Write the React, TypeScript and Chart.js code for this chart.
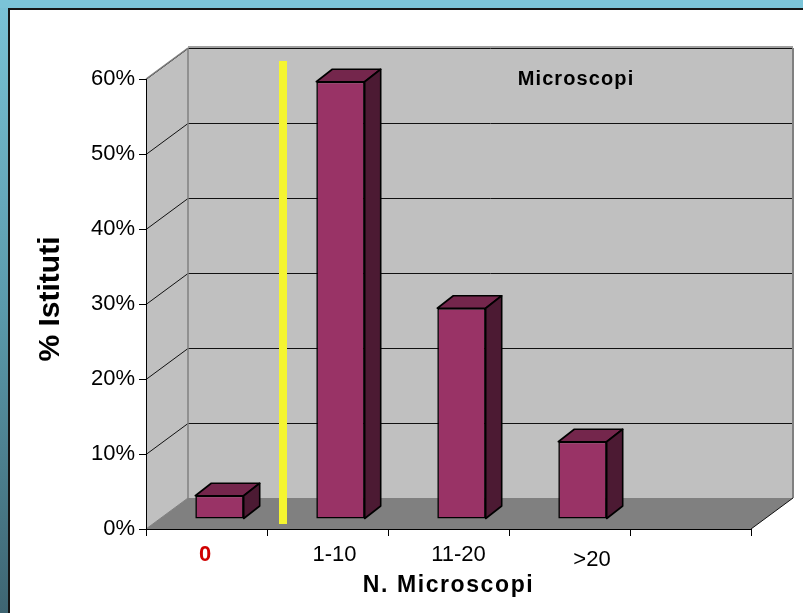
import React, { useEffect, useRef } from 'react';
import { Chart, registerables } from 'chart.js';

Chart.register(...registerables);

// Categories of the x axis (the last slot is left empty, as in the floor grid)
const CATEGORIES = ['0', '1-10', '11-20', '>20', ''];
// Share of institutes (%) per number of microscopes
const SHARE: (number | null)[] = [3.1, 58.3, 28.1, 10.3, null];
// Value axis ticks (%)
const Y_TICKS = [0, 10, 20, 30, 40, 50, 60];

const Y_TITLE = '% Istituti';
const X_TITLE = 'N. Microscopi';
const SERIES_TITLE = 'Microscopi';

const FONT = '"Liberation Sans", Arial, Helvetica, sans-serif';

// 3D projection of the walls and of the boxes
const WALL = { dx: 42, dy: -31 };
const BAR_SHIFT = { dx: 13, dy: -10 };
const BAR_DEPTH = { dx: 16, dy: -12.5 };
// small per-label nudges of the category labels [dx, dy]
const LABEL_NUDGE = [
  [-1.5, 0],
  [7, 0],
  [10, 0],
  [22.5, 5],
  [0, 0],
];

const COLORS = {
  wall: '#c0c0c0',
  floor: '#808080',
  wallEdge: '#808080',
  grid: '#111111',
  barFront: '#993366',
  barTop: '#74264c',
  barSide: '#4c1a33',
  marker: '#f5f530',
  zero: '#d00000',
};

function poly(ctx: CanvasRenderingContext2D, pts: number[][], fill?: string, stroke?: string, lw = 1) {
  ctx.beginPath();
  ctx.moveTo(pts[0][0], pts[0][1]);
  for (let i = 1; i < pts.length; i++) ctx.lineTo(pts[i][0], pts[i][1]);
  ctx.closePath();
  if (fill) {
    ctx.fillStyle = fill;
    ctx.fill();
  }
  if (stroke) {
    ctx.strokeStyle = stroke;
    ctx.lineWidth = lw;
    ctx.stroke();
  }
}

function line(ctx: CanvasRenderingContext2D, x1: number, y1: number, x2: number, y2: number, color: string, lw = 1) {
  ctx.beginPath();
  ctx.moveTo(x1, y1);
  ctx.lineTo(x2, y2);
  ctx.strokeStyle = color;
  ctx.lineWidth = lw;
  ctx.stroke();
}

// Page frame, side wall, back wall, floor and wall grid
const backdropPlugin = {
  id: 'backdrop',
  beforeDraw(chart: any) {
    const { ctx, width, height, chartArea: a, scales } = chart;
    const y = scales.y;
    ctx.save();
    // frame
    ctx.fillStyle = '#ffffff';
    ctx.fillRect(0, 0, width, height);
    ctx.fillStyle = '#7bc4d8';
    ctx.fillRect(0, 0, width, 8);
    const g = ctx.createLinearGradient(0, 8, 0, height);
    g.addColorStop(0, '#79c1d5');
    g.addColorStop(0.5, '#5a9aab');
    g.addColorStop(1, '#3e6572');
    ctx.fillStyle = g;
    ctx.fillRect(0, 8, 8, height - 8);
    ctx.fillStyle = '#151515';
    ctx.fillRect(8, 8, width - 8, 2);
    ctx.fillRect(8, 8, 2, height - 8);

    const L = a.left;
    const R = a.right;
    const T = y.getPixelForValue(Y_TICKS[Y_TICKS.length - 1]);
    const B = y.getPixelForValue(0);
    const { dx, dy } = WALL;

    // walls
    poly(ctx, [[L, B], [L, T], [L + dx, T + dy], [L + dx, B + dy]], COLORS.wall);
    ctx.fillStyle = COLORS.wall;
    ctx.fillRect(L + dx, T + dy, R - L, B - T);
    // floor
    poly(ctx, [[L, B], [R, B], [R + dx, B + dy], [L + dx, B + dy]], COLORS.floor);

    // grid on side and back walls
    Y_TICKS.forEach((v) => {
      if (v === 0) return;
      const yf = Math.round(y.getPixelForValue(v)) + 0.5;
      line(ctx, L, yf, L + dx, yf + dy, COLORS.grid, 1);
      line(ctx, L + dx, yf + dy, R + dx, yf + dy, COLORS.grid, 1);
    });

    // wall edges
    ctx.lineJoin = 'miter';
    line(ctx, L, T, L + dx, T + dy, COLORS.wallEdge, 1.5);
    line(ctx, L + dx, T + dy - 1, R + dx, T + dy - 1, COLORS.wallEdge, 1.5);
    line(ctx, L + dx, T + dy, L + dx, B + dy, COLORS.wallEdge, 1.5);
    line(ctx, R + dx, T + dy, R + dx, B + dy, COLORS.wallEdge, 2);
    line(ctx, L, B, L + dx, B + dy, COLORS.wallEdge, 1);
    line(ctx, R, B, R + dx, B + dy, '#111111', 1);
    ctx.restore();
  },
};

// Shifts the bar fronts into the depth of the floor and adds top and side faces
const boxPlugin = {
  id: 'boxes',
  beforeDatasetsDraw(chart: any) {
    chart.ctx.save();
    chart.ctx.translate(BAR_SHIFT.dx, BAR_SHIFT.dy);
  },
  afterDatasetsDraw(chart: any) {
    const { ctx } = chart;
    const meta = chart.getDatasetMeta(0);
    meta.data.forEach((bar: any, i: number) => {
      if (SHARE[i] == null) return;
      const { x, y, base, width } = bar.getProps(['x', 'y', 'base', 'width'], true);
      if (!isFinite(y)) return;
      const l = x - width / 2;
      const r = x + width / 2;
      const { dx, dy } = BAR_DEPTH;
      ctx.lineJoin = 'round';
      poly(ctx, [[l, y], [l + dx, y + dy], [r + dx, y + dy], [r, y]], COLORS.barTop, '#000', 1.6);
      poly(ctx, [[r, y], [r + dx, y + dy], [r + dx, base + dy], [r, base]], COLORS.barSide, '#000', 1.6);
    });
    ctx.restore();
  },
};

// Marker line, series caption, category labels and x title
const labelsPlugin = {
  id: 'labels',
  afterDraw(chart: any) {
    const { ctx, chartArea: a, scales } = chart;
    const x = scales.x;
    ctx.save();

    // separator between "0" and the other classes
    const sep = (x.getPixelForValue(0) + x.getPixelForValue(1)) / 2 + 16;
    ctx.fillStyle = COLORS.marker;
    ctx.fillRect(sep - 4, a.top - 18, 8, a.bottom - 5 - (a.top - 18));

    // series caption on the back wall
    ctx.fillStyle = '#000';
    ctx.textAlign = 'center';
    ctx.textBaseline = 'middle';
    (ctx as any).letterSpacing = '1.1px';
    ctx.font = `bold 20px ${FONT}`;
    ctx.fillText(SERIES_TITLE, a.left + 430, a.top);

    // category labels
    (ctx as any).letterSpacing = '0px';
    CATEGORIES.forEach((c, i) => {
      if (!c) return;
      const cx = x.getPixelForValue(i) + LABEL_NUDGE[i][0];
      const cy = a.bottom + 26 + LABEL_NUDGE[i][1];
      if (i === 0) {
        ctx.font = `bold 22px ${FONT}`;
        ctx.fillStyle = COLORS.zero;
      } else {
        ctx.font = `22px ${FONT}`;
        ctx.fillStyle = '#000';
      }
      ctx.fillText(c, cx, cy);
    });

    // x axis title
    (ctx as any).letterSpacing = '1.6px';
    ctx.font = `bold 23px ${FONT}`;
    ctx.fillStyle = '#000';
    ctx.fillText(X_TITLE, (a.left + a.right) / 2, a.bottom + 57);

    // y axis title
    (ctx as any).letterSpacing = '0px';
    ctx.translate(51, (a.top + a.bottom) / 2 - 5);
    ctx.rotate(-Math.PI / 2);
    ctx.font = `bold 30px ${FONT}`;
    ctx.fillText(Y_TITLE, 0, 0);
    ctx.restore();
  },
};

export default function App() {
  const ref = useRef<HTMLCanvasElement>(null);

  useEffect(() => {
    if (!ref.current) return;
    const chart = new Chart(ref.current, {
      type: 'bar',
      data: {
        labels: CATEGORIES,
        datasets: [
          {
            data: SHARE as any,
            backgroundColor: COLORS.barFront,
            borderColor: '#000',
            borderWidth: 1.6,
            borderSkipped: false,
            categoryPercentage: 1,
            barPercentage: 0.4,
            clip: false as any,
          },
        ],
      },
      options: {
        responsive: false,
        animation: false,
        devicePixelRatio: 1,
        layout: { padding: { left: 10, right: 52, top: 79, bottom: 0 } },
        plugins: {
          legend: { display: false },
          tooltip: { enabled: false },
          title: { display: false },
        },
        scales: {
          x: {
            offset: true,
            grid: {
              display: true,
              drawOnChartArea: false,
              drawTicks: true,
              tickLength: 7,
              color: '#000',
              offset: true,
            },
            border: { display: true, color: '#000', width: 1 },
            ticks: { display: false },
            afterFit: (s: any) => {
              s.height = 84;
            },
          },
          y: {
            min: 0,
            max: 60,
            grid: {
              display: true,
              drawOnChartArea: false,
              drawTicks: true,
              tickLength: 7,
              color: '#000',
            },
            border: { display: true, color: '#000', width: 1 },
            afterBuildTicks: (s: any) => {
              s.ticks = Y_TICKS.map((v) => ({ value: v }));
            },
            ticks: {
              padding: 4,
              color: '#000',
              font: { family: FONT, size: 22 },
              callback: (v: any) => `${v}%`,
            },
            title: { display: false },
            afterFit: (s: any) => {
              s.width = 136;
            },
          },
        },
      },
      plugins: [backdropPlugin, boxPlugin, labelsPlugin],
    });
    return () => chart.destroy();
  }, []);

  return (
    <div style={{ position: 'fixed', left: 0, top: 0, width: 803, height: 613 }}>
      <canvas ref={ref} width={803} height={613} style={{ display: 'block', width: 803, height: 613 }} />
    </div>
  );
}
